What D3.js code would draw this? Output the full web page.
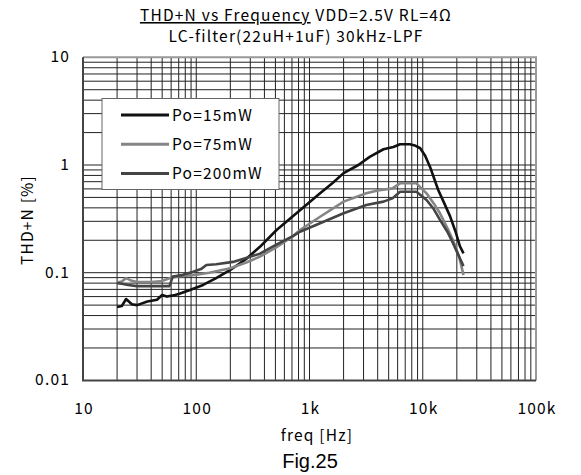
<!DOCTYPE html>
<html>
<head>
<meta charset="utf-8">
<script src="https://cdn.jsdelivr.net/npm/d3@7"></script>
<style>
  body { margin: 0; background: #fff; }
  text { font-family: "Noto Sans CJK JP", "DejaVu Sans", sans-serif; fill: #000; letter-spacing: 1.2px; }
</style>
</head>
<body>
<div id="chart"></div>
<script>
// frequency [Hz] / THD+N [%]
const freq15 = [20, 22, 24, 27, 30, 37, 45, 50, 55, 65, 72, 88, 115, 150, 200, 280, 365, 512, 824, 1240, 1600, 2000, 2700, 3400, 4500, 5500, 6300, 7700, 8500, 9500, 10500, 11600, 13700, 15500, 17400, 19500, 21300, 22900]
const thd15 = [0.048, 0.049, 0.057, 0.051, 0.050, 0.054, 0.056, 0.062, 0.060, 0.062, 0.064, 0.069, 0.077, 0.089, 0.106, 0.136, 0.174, 0.249, 0.38, 0.546, 0.68, 0.84, 1.0, 1.19, 1.4, 1.47, 1.56, 1.56, 1.52, 1.43, 1.22, 0.96, 0.586, 0.44, 0.335, 0.24, 0.176, 0.151]

const freq75 = [20, 22, 24, 27, 30, 40, 48, 55, 60, 72, 94, 130, 200, 280, 365, 500, 720, 824, 1240, 2000, 3170, 4000, 5400, 6300, 8800, 10800, 12500, 14200, 16500, 18500, 21000, 22900]
const thd75 = [0.081, 0.083, 0.089, 0.084, 0.082, 0.082, 0.083, 0.087, 0.090, 0.093, 0.095, 0.100, 0.110, 0.125, 0.141, 0.17, 0.22, 0.249, 0.331, 0.457, 0.546, 0.58, 0.607, 0.676, 0.676, 0.546, 0.44, 0.356, 0.26, 0.2, 0.14, 0.095]

const freq200 = [20, 22, 25, 30, 40, 50, 58, 62, 75, 94, 110, 123, 150, 211, 280, 365, 500, 720, 824, 1240, 2000, 3170, 4500, 5400, 6300, 8800, 10800, 12500, 14200, 16500, 18500, 21000, 22900]
const thd200 = [0.080, 0.079, 0.077, 0.075, 0.075, 0.075, 0.075, 0.092, 0.095, 0.102, 0.108, 0.118, 0.120, 0.126, 0.138, 0.15, 0.18, 0.22, 0.24, 0.288, 0.356, 0.425, 0.457, 0.49, 0.565, 0.565, 0.473, 0.39, 0.309, 0.24, 0.188, 0.14, 0.115]

const seriesNames = ["Po=15mW", "Po=75mW", "Po=200mW"]
const seriesColors = ["#111111", "#858585", "#444444"]

const xTicks = [10, 100, 1000, 10000, 100000]
const xTickLabels = ["10", "100", "1k", "10k", "100k"]
const yTicks = [0.01, 0.1, 1, 10]
const yTickLabels = ["0.01", "0.1", "1", "10"]

const series = [
    { name: seriesNames[0], color: seriesColors[0], values: freq15.map((f, i) => ({ f: f, v: thd15[i] })) },
    { name: seriesNames[1], color: seriesColors[1], values: freq75.map((f, i) => ({ f: f, v: thd75[i] })) },
    { name: seriesNames[2], color: seriesColors[2], values: freq200.map((f, i) => ({ f: f, v: thd200[i] })) }
]

const totalWidth = 581
const totalHeight = 475
const plot = { left: 83, top: 57.3, right: 536, bottom: 380.4 }
const fs = 15.5

const svg = d3.select("#chart")
    .append("svg")
    .attr("width", totalWidth)
    .attr("height", totalHeight)

const x = d3.scaleLog().domain([10, 100000]).range([plot.left, plot.right])
const y = d3.scaleLog().domain([0.01, 10]).range([plot.bottom, plot.top])

// minor + major grid: 1..9 per decade
const gridX = []
for (let d = 10; d < 100000; d *= 10) for (let k = 1; k < 10; k++) gridX.push(d * k)
const gridY = []
for (let d = 0.01; d < 9; d *= 10) for (let k = 1; k < 10; k++) gridY.push(+(d * k).toPrecision(3))

const grid = svg.append("g")
grid.selectAll(".gx")
    .data(gridX.slice(1))
    .enter()
    .append("line")
    .attr("x1", (d) => x(d))
    .attr("x2", (d) => x(d))
    .attr("y1", plot.top)
    .attr("y2", plot.bottom)
    .attr("stroke", "#222")
    .attr("stroke-width", 1)
grid.selectAll(".gy")
    .data(gridY.slice(1))
    .enter()
    .append("line")
    .attr("x1", plot.left)
    .attr("x2", plot.right)
    .attr("y1", (d) => y(d))
    .attr("y2", (d) => y(d))
    .attr("stroke", "#222")
    .attr("stroke-width", 1)

// frame: light top/right, dark left/bottom
svg.append("path")
    .attr("d", `M${plot.left},${plot.top}H${plot.right}V${plot.bottom}`)
    .attr("fill", "none")
    .attr("stroke", "#999")
    .attr("stroke-width", 2)
svg.append("path")
    .attr("d", `M${plot.left},${plot.top}V${plot.bottom}H${plot.right}`)
    .attr("fill", "none")
    .attr("stroke", "#444")
    .attr("stroke-width", 2)

// tick labels
svg.selectAll(".xlab")
    .data(xTicks)
    .enter()
    .append("text")
    .attr("x", (d) => x(d) + 1)
    .attr("y", 414)
    .attr("text-anchor", "middle")
    .attr("font-size", fs)
    .text((d, i) => xTickLabels[i])

svg.selectAll(".ylab")
    .data(yTicks)
    .enter()
    .append("text")
    .attr("x", 70)
    .attr("y", (d) => y(d) + 5)
    .attr("text-anchor", "end")
    .attr("font-size", fs)
    .text((d, i) => yTickLabels[i])

// curves
const line = d3.line()
    .x((d) => x(d.f))
    .y((d) => y(d.v))

svg.selectAll(".curve")
    .data(series)
    .enter()
    .append("path")
    .attr("d", (d) => line(d.values))
    .attr("fill", "none")
    .attr("stroke", (d) => d.color)
    .attr("stroke-width", 2.6)
    .attr("stroke-linejoin", "round")

// legend
const legend = svg.append("g")
legend.append("rect")
    .attr("x", 102)
    .attr("y", 98.5)
    .attr("width", 177)
    .attr("height", 91)
    .attr("fill", "#fff")
    .attr("stroke", "#666")
    .attr("stroke-width", 1)
const item = legend.selectAll(".item")
    .data(series)
    .enter()
    .append("g")
    .attr("transform", (d, i) => `translate(0, ${115 + i * 29.2})`)
item.append("line")
    .attr("x1", 121)
    .attr("x2", 169)
    .attr("stroke", (d) => d.color)
    .attr("stroke-width", 3)
item.append("text")
    .attr("x", 172)
    .attr("y", 5.5)
    .attr("font-size", fs)
    .text((d) => d.name)

// titles
const title = svg.append("text")
    .attr("x", 296)
    .attr("y", 21)
    .attr("text-anchor", "middle")
    .attr("font-size", fs)
title.append("tspan")
    .attr("text-decoration", "underline")
    .text("THD+N vs Frequency")
title.append("tspan").text(" VDD=2.5V RL=4Ω")

svg.append("text")
    .attr("x", 296)
    .attr("y", 42)
    .attr("text-anchor", "middle")
    .attr("font-size", fs)
    .text("LC-filter(22uH+1uF) 30kHz-LPF")

svg.append("text")
    .attr("x", 317)
    .attr("y", 441)
    .attr("text-anchor", "middle")
    .attr("font-size", fs)
    .text("freq [Hz]")

svg.append("g")
    .attr("transform", "translate(33, 220)")
    .append("text")
    .attr("transform", "rotate(-90)")
    .attr("text-anchor", "middle")
    .attr("font-size", fs)
    .text("THD+N [%]")

svg.append("text")
    .attr("x", 310)
    .attr("y", 468)
    .attr("text-anchor", "middle")
    .attr("font-size", 20)
    .style("letter-spacing", "0px")
    .style("font-family", "'Liberation Sans', Arial, sans-serif")
    .text("Fig.25")
</script>
</body>
</html>
